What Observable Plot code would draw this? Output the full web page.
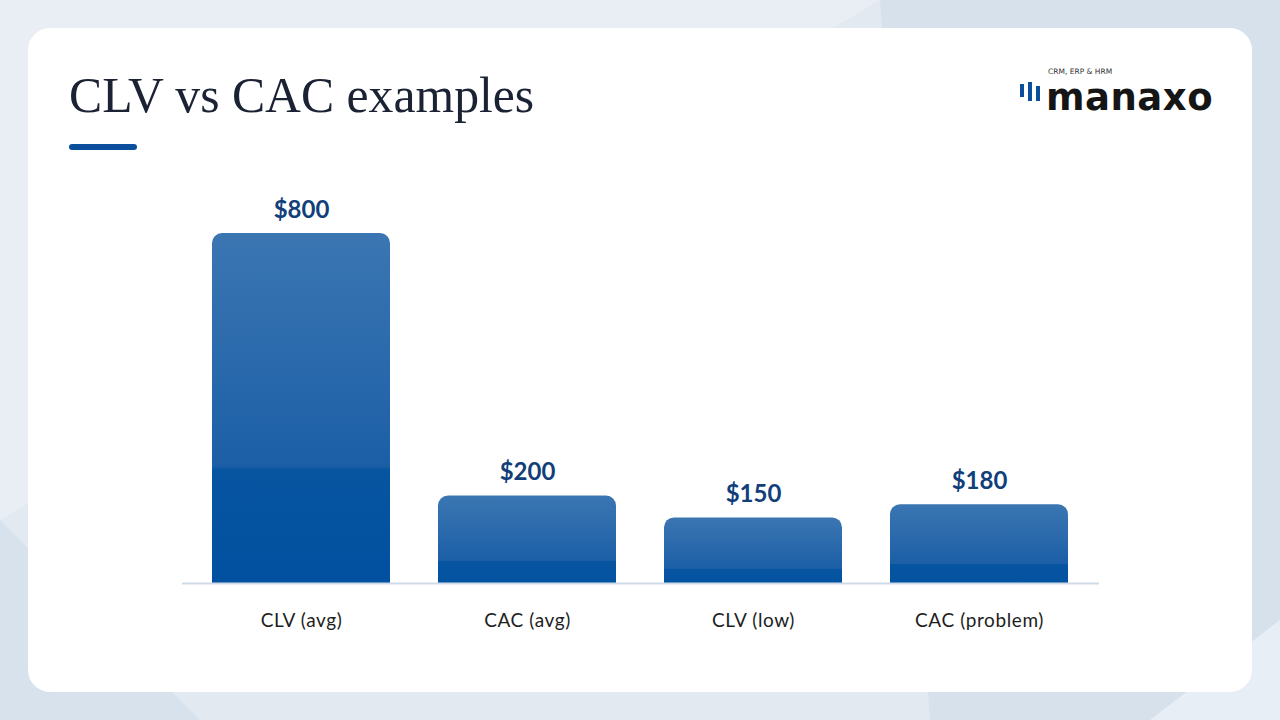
<!DOCTYPE html>
<html>
<head>
<meta charset="utf-8">
<script src="https://cdn.jsdelivr.net/npm/d3@7"></script>
<script src="https://cdn.jsdelivr.net/npm/@observablehq/plot@0.6"></script>
<style>
  html, body { margin: 0; padding: 0; }
  body { width: 1280px; height: 720px; position: relative; overflow: hidden; background: #e2e9f1; font-family: Lato, "Noto Sans", sans-serif; }
  .shape { position: absolute; left: 0; top: 0; width: 1280px; height: 720px; }
  .s1 { background: #d7e1ec; clip-path: polygon(880px 0, 1280px 0, 1280px 720px, 930px 720px); }
  .s2 { background: #e9eef5; clip-path: polygon(0 0, 880px 0, 0 520px); }
  .s3 { background: #d7e2ed; clip-path: polygon(0 520px, 200px 720px, 0 720px); }
  .s4 { background: #e8eef5; clip-path: polygon(1150px 720px, 1280px 620px, 1280px 720px); }
  .card { position: absolute; left: 28px; top: 28px; width: 1224px; height: 664px; background: #fff; border-radius: 22px; }
  .title { position: absolute; left: 69px; top: 67px; font-family: "Liberation Serif", serif; font-size: 49.7px; color: #1a2233; white-space: nowrap; }
  .underline { position: absolute; left: 69px; top: 144px; width: 68px; height: 6px; border-radius: 3px; background: #0b4f9c; }
  .logo { position: absolute; left: 1019px; top: 60px; overflow: visible; }
  #chart { position: absolute; left: 182px; top: 180px; }
</style>
</head>
<body>
<div class="shape s2"></div>
<div class="shape s1"></div>
<div class="shape s3"></div>
<div class="shape s4"></div>
<div class="card"></div>
<div class="title">CLV vs CAC examples</div>
<div class="underline"></div>
<svg class="logo" width="200" height="60">
  <rect x="1" y="24" width="4" height="13" fill="#0b4f9c"/>
  <rect x="9" y="22" width="4" height="19" fill="#0b4f9c"/>
  <rect x="17" y="26" width="4" height="15" fill="#0b4f9c"/>
  <text x="29" y="14" font-family="DejaVu Sans, sans-serif" font-size="7.5" fill="#333">CRM, ERP &amp; HRM</text>
  <text x="27" y="50" font-family="DejaVu Sans, sans-serif" font-size="37" font-weight="bold" letter-spacing="0.5" fill="#151515">manaxo</text>
</svg>
<div id="chart"></div>
<script>
const categories = ["CLV (avg)", "CAC (avg)", "CLV (low)", "CAC (problem)"];
const values = [800, 200, 150, 180];
const valueLabels = ["$800", "$200", "$150", "$180"];

const data = categories.map((c, i) => ({ category: c, value: values[i], label: valueLabels[i] }));

const chart = Plot.plot({
  width: 917,
  height: 463,
  marginLeft: 0,
  marginRight: 0,
  marginTop: 53,
  marginBottom: 60,
  x: { domain: categories, paddingInner: 0.212, paddingOuter: 0.133, label: null },
  y: { domain: [0, 800], axis: null },
  style: { background: "transparent", overflow: "visible" },
  marks: [
    Plot.barY(data, { x: "category", y: "value", fill: "url(#barGrad)", rx: 10, insetBottom: -14, clip: true }),
    Plot.ruleY([0], { stroke: "#cfdbe8", strokeWidth: 2 }),
    Plot.text(data, { x: "category", y: "value", text: "label", lineAnchor: "bottom", dy: -16, fontSize: 24, fontWeight: "bold", fill: "#123f7a", fontFamily: "Lato, sans-serif", style: "letter-spacing:0.6px" }),
    Plot.axisX({ tickSize: 0, tickPadding: 30, fontSize: 19, fill: "#1e1e1e", fontFamily: "Lato, sans-serif", label: null })
  ]
});

const svg = d3.select(chart);
svg.selectAll("g[aria-label='x-axis tick label'] text").style("letter-spacing", "0.6px");
const defs = svg.insert("defs", ":first-child");
const g = defs.append("linearGradient").attr("id", "barGrad").attr("x1", 0).attr("y1", 0).attr("x2", 0).attr("y2", 1);
g.append("stop").attr("offset", "0").attr("stop-color", "#3b76b2");
g.append("stop").attr("offset", "0.64").attr("stop-color", "#1c5fa7");
g.append("stop").attr("offset", "0.65").attr("stop-color", "#0755a1");
g.append("stop").attr("offset", "1").attr("stop-color", "#0050a0");

document.getElementById("chart").appendChild(chart);
</script>
</body>
</html>
